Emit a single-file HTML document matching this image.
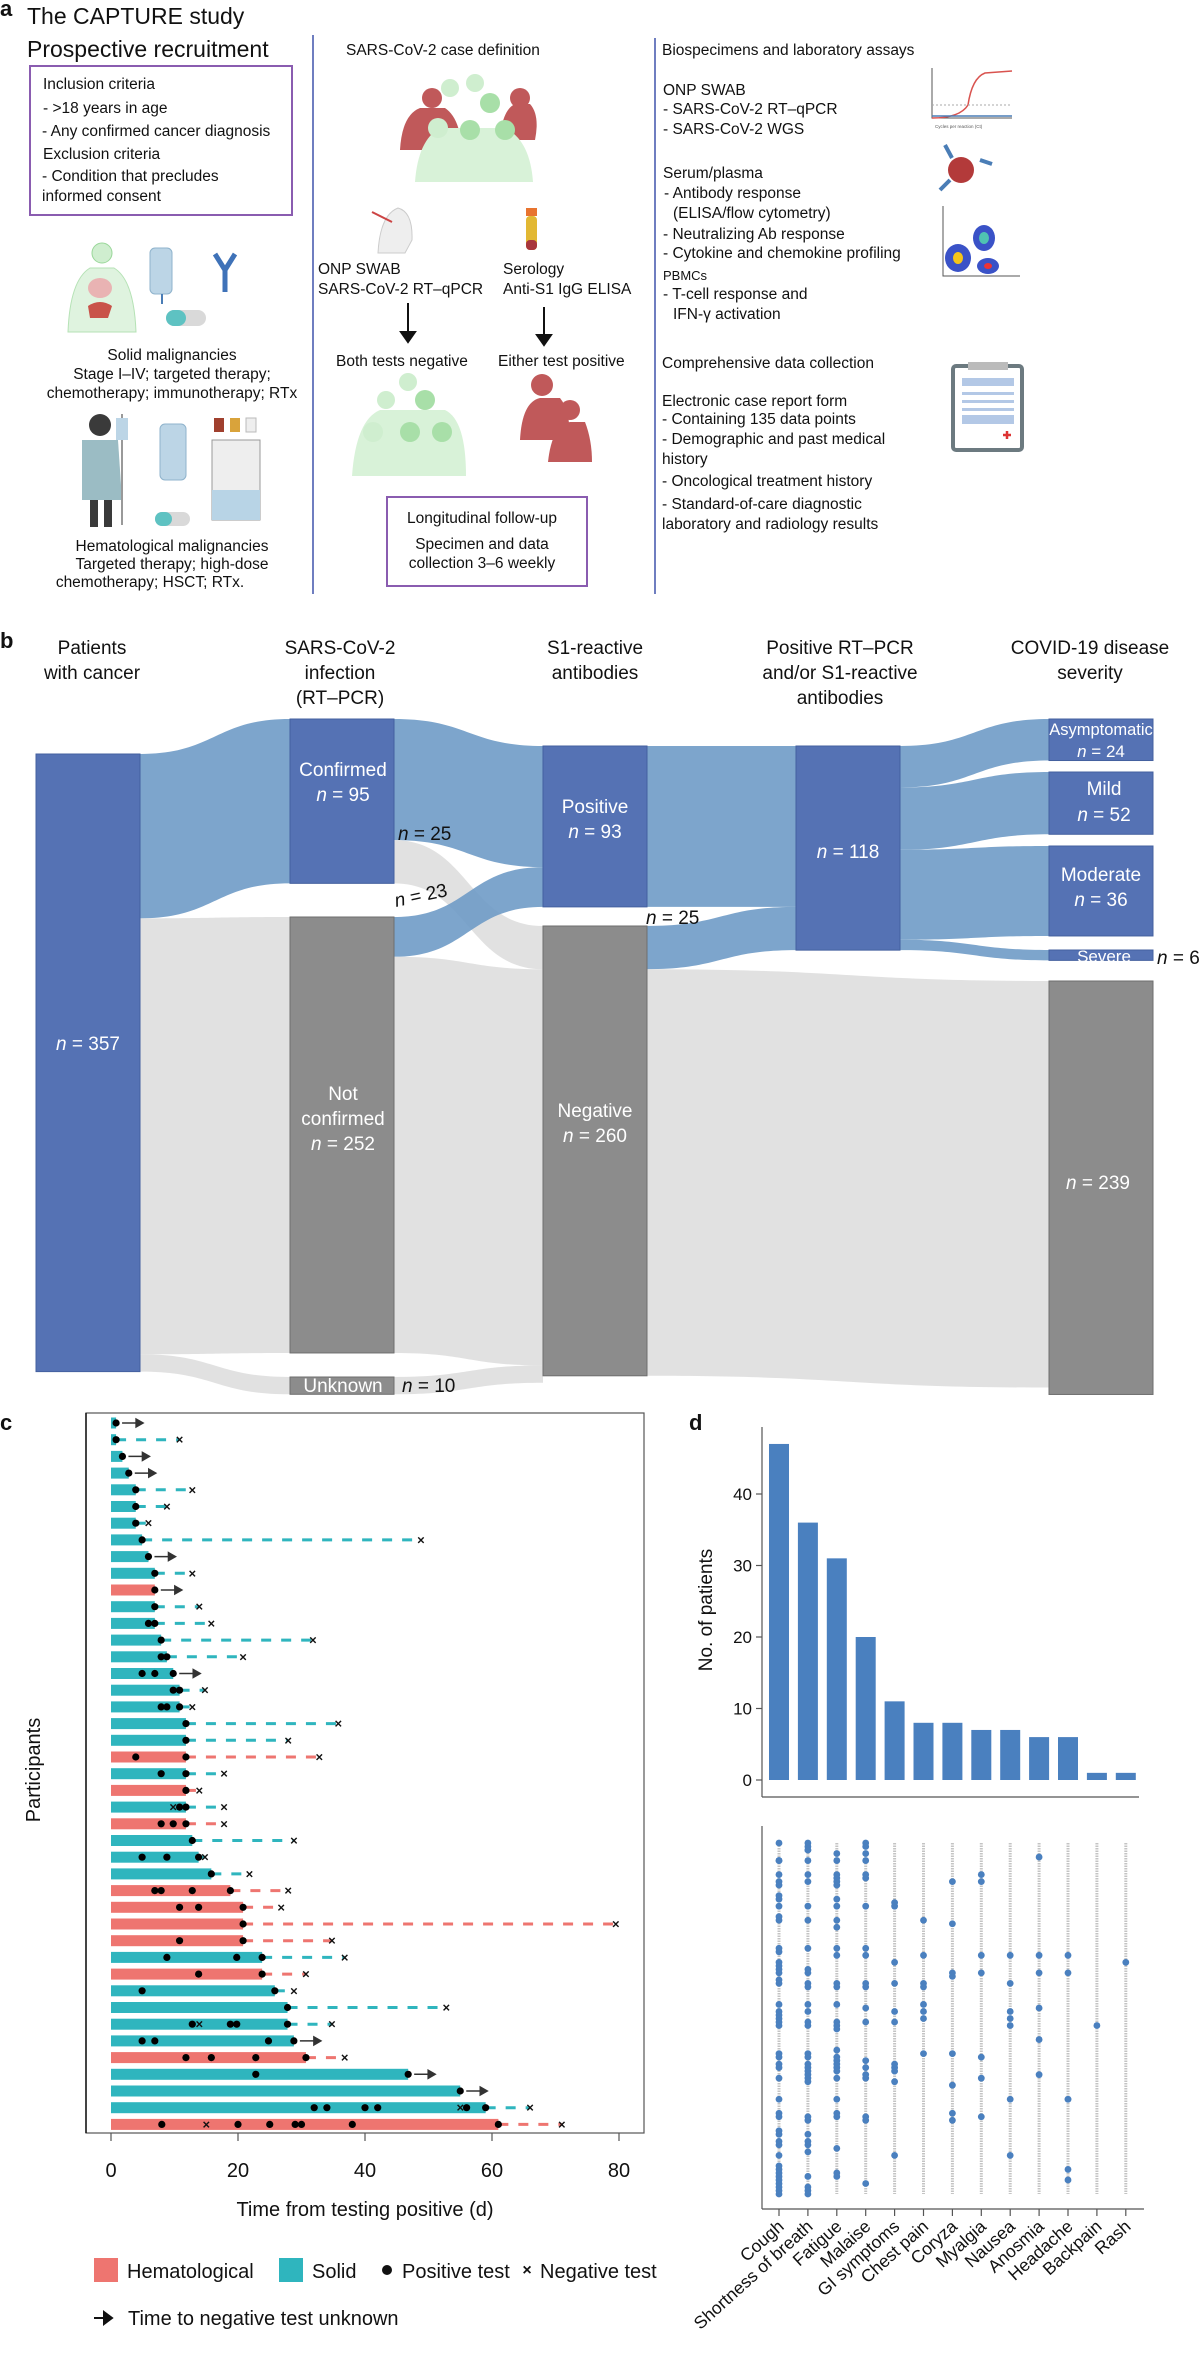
<!DOCTYPE html>
<html><head><meta charset="utf-8">
<style>
html,body{margin:0;padding:0;background:#fff;}
svg{display:block;font-family:"Liberation Sans",Arial,sans-serif;}
</style></head>
<body>
<svg id="fig" width="1200" height="2357" viewBox="0 0 1200 2357" xmlns="http://www.w3.org/2000/svg">
<!-- ===== Panel a ===== -->
<g fill="#111">
  <text x="0" y="16" font-size="22" font-weight="bold">a</text>
  <text x="27" y="24" font-size="23">The CAPTURE study</text>
  <text x="27" y="57" font-size="23">Prospective recruitment</text>
  <rect x="30" y="66" width="262" height="149" fill="none" stroke="#8a5cb0" stroke-width="2"/>
  <g font-size="15.5">
    <text x="43" y="89">Inclusion criteria</text>
    <text x="43" y="113">- &gt;18 years in age</text>
    <text x="42" y="136">- Any confirmed cancer diagnosis</text>
    <text x="43" y="159">Exclusion criteria</text>
    <text x="42" y="181">- Condition that precludes</text>
    <text x="42" y="201">informed consent</text>
  </g>
  <g>
    <circle cx="102" cy="253" r="10" fill="#cfeecf" stroke="#9ad79a"/>
    <path d="M68 332 Q70 280 90 268 L114 268 Q134 280 136 332 Z" fill="#dff3df" stroke="#b5e2b5"/>
    <ellipse cx="100" cy="288" rx="12" ry="10" fill="#e9b3b3"/>
    <path d="M88 306 Q100 298 112 306 L108 318 L90 318 Z" fill="#c9534a"/>
    <rect x="150" y="248" width="22" height="46" rx="5" fill="#bcd5e6" stroke="#8fb3cc"/>
    <line x1="162" y1="294" x2="162" y2="304" stroke="#4a7db6" stroke-width="2"/>
    <path d="M215 254 L225 270 L235 254 M225 270 L225 292" stroke="#3f72b8" stroke-width="5" fill="none"/>
    <rect x="166" y="310" width="40" height="16" rx="8" fill="#d9d9d9"/>
    <rect x="166" y="310" width="20" height="16" rx="8" fill="#5ec2c2"/>
  </g>
  <g font-size="15.5" text-anchor="middle">
    <text x="172" y="360">Solid malignancies</text>
    <text x="172" y="379">Stage I–IV; targeted therapy;</text>
    <text x="172" y="398">chemotherapy; immunotherapy; RTx</text>
  </g>
  <g>
    <circle cx="100" cy="425" r="11" fill="#3a3a3a"/>
    <path d="M82 440 L118 440 L122 500 L82 500 Z" fill="#9bbcc4"/>
    <rect x="90" y="500" width="8" height="27" fill="#3a3a3a"/><rect x="104" y="500" width="8" height="27" fill="#3a3a3a"/>
    <line x1="122" y1="414" x2="122" y2="525" stroke="#999" stroke-width="2"/>
    <rect x="116" y="418" width="12" height="22" fill="#bcd5e6"/>
    <rect x="160" y="424" width="26" height="56" rx="5" fill="#bcd5e6" stroke="#8fb3cc"/>
    <rect x="155" y="512" width="35" height="14" rx="7" fill="#d9d9d9"/><rect x="155" y="512" width="17" height="14" rx="7" fill="#5ec2c2"/>
    <rect x="212" y="440" width="48" height="80" fill="#eeeeee" stroke="#999"/>
    <rect x="212" y="490" width="48" height="30" fill="#b8d4e6"/>
    <rect x="214" y="418" width="10" height="14" fill="#a0402e"/><rect x="230" y="418" width="10" height="14" fill="#d9a33b"/><rect x="246" y="418" width="10" height="14" fill="#eee" stroke="#bbb"/>
  </g>
  <g font-size="15.5" text-anchor="middle">
    <text x="172" y="551">Hematological malignancies</text>
    <text x="172" y="569">Targeted therapy; high-dose</text>
    <text x="150" y="587">chemotherapy; HSCT; RTx.</text>
  </g>
  <line x1="313" y1="35" x2="313" y2="594" stroke="#6f7ec0" stroke-width="2"/>
  <line x1="655" y1="38" x2="655" y2="594" stroke="#6f7ec0" stroke-width="2"/>

  <text x="346" y="55" font-size="15.5">SARS-CoV-2 case definition</text>
  <g>
    <path d="M400 150 Q402 115 420 108 L445 108 Q460 118 462 150 Z" fill="#c0595a"/><circle cx="432" cy="98" r="10" fill="#c0595a"/>
    <path d="M500 140 Q502 110 515 104 L530 104 Q540 115 535 140 Z" fill="#c0595a"/><circle cx="520" cy="98" r="10" fill="#c0595a"/>
    <path d="M415 182 Q418 140 440 128 L505 128 Q530 140 533 182 Z" fill="#d8f2d8"/>
    <circle cx="450" cy="88" r="9" fill="#cfeecf"/><circle cx="475" cy="83" r="9" fill="#cfeecf"/><circle cx="490" cy="103" r="10" fill="#a8dfa8"/>
    <circle cx="438" cy="128" r="10" fill="#cfeecf"/><circle cx="470" cy="130" r="10" fill="#a8dfa8"/><circle cx="505" cy="130" r="10" fill="#a8dfa8"/>
  </g>
  <g>
    <path d="M378 253 Q380 215 398 208 Q413 212 412 240 L405 253 Z" fill="#eee" stroke="#ccc"/>
    <line x1="372" y1="212" x2="392" y2="222" stroke="#c44" stroke-width="2"/>
  </g>
  <g>
    <rect x="526" y="208" width="11" height="8" fill="#e8742f"/><rect x="526" y="216" width="11" height="34" rx="4" fill="#e2b833"/>
    <rect x="526" y="240" width="11" height="10" rx="4" fill="#a8363c"/>
  </g>
  <g font-size="15.5">
    <text x="318" y="274">ONP SWAB</text>
    <text x="318" y="294">SARS-CoV-2 RT–qPCR</text>
    <text x="503" y="274">Serology</text>
    <text x="503" y="294">Anti-S1 IgG ELISA</text>
    <text x="336" y="366">Both tests negative</text>
    <text x="498" y="366">Either test positive</text>
  </g>
  <g stroke="#111" stroke-width="2" fill="#111">
    <line x1="408" y1="303" x2="408" y2="334"/><path d="M401 332 L408 342 L415 332 Z"/>
    <line x1="544" y1="307" x2="544" y2="337"/><path d="M537 335 L544 345 L551 335 Z"/>
  </g>
  <g>
    <path d="M352 476 Q356 420 380 410 L445 410 Q466 420 466 476 Z" fill="#d8f2d8"/>
    <circle cx="408" cy="382" r="9" fill="#cfeecf"/><circle cx="386" cy="400" r="9" fill="#cfeecf"/><circle cx="425" cy="400" r="10" fill="#a8dfa8"/>
    <circle cx="373" cy="432" r="10" fill="#cfeecf"/><circle cx="410" cy="432" r="10" fill="#a8dfa8"/><circle cx="442" cy="432" r="10" fill="#a8dfa8"/>
  </g>
  <g>
    <circle cx="542" cy="385" r="11" fill="#c0595a"/><path d="M520 440 Q522 402 540 398 L560 398 Q570 410 570 440 Z" fill="#c0595a"/>
    <circle cx="570" cy="410" r="10" fill="#c0595a"/><path d="M548 462 Q552 425 570 422 L585 422 Q592 440 592 462 Z" fill="#c0595a"/>
  </g>
  <rect x="387" y="497" width="200" height="89" fill="none" stroke="#8a5cb0" stroke-width="2"/>
  <g font-size="15.5" text-anchor="middle">
    <text x="482" y="523">Longitudinal follow-up</text>
    <text x="482" y="549">Specimen and data</text>
    <text x="482" y="568">collection 3–6 weekly</text>
  </g>
  <g font-size="15.5">
    <text x="662" y="55">Biospecimens and laboratory assays</text>
    <text x="663" y="95">ONP SWAB</text>
    <text x="663" y="114">- SARS-CoV-2 RT–qPCR</text>
    <text x="663" y="134">- SARS-CoV-2 WGS</text>
    <text x="663" y="178">Serum/plasma</text>
    <text x="664" y="198">- Antibody response</text>
    <text x="673" y="218">(ELISA/flow cytometry)</text>
    <text x="663" y="239">- Neutralizing Ab response</text>
    <text x="663" y="258">- Cytokine and chemokine profiling</text>
    <text x="663" y="280" font-size="13">PBMCs</text>
    <text x="663" y="299">- T-cell response and</text>
    <text x="673" y="319">IFN-γ activation</text>
    <text x="662" y="368">Comprehensive data collection</text>
    <text x="662" y="406">Electronic case report form</text>
    <text x="662" y="424">- Containing 135 data points</text>
    <text x="662" y="444">- Demographic and past medical</text>
    <text x="662" y="464">history</text>
    <text x="662" y="486">- Oncological treatment history</text>
    <text x="662" y="509">- Standard-of-care diagnostic</text>
    <text x="662" y="529">laboratory and radiology results</text>
  </g>
  <g font-size="4.5" fill="#555">
    <path d="M932 68 L932 118 L1012 118" fill="none" stroke="#555"/>
    <path d="M932 118 Q960 118 968 105 Q972 78 985 73 L1012 71" fill="none" stroke="#d9534f" stroke-width="1.5"/>
    <line x1="932" y1="116" x2="1012" y2="116" stroke="#4a7db6" stroke-width="1.5"/>
    <line x1="932" y1="105" x2="1012" y2="105" stroke="#aaa" stroke-dasharray="2 2"/>
    <text x="935" y="128">Cycles per reaction (Ct)</text>
  </g>
  <g>
    <circle cx="961" cy="170" r="13" fill="#b33a3a"/>
    <path d="M945 145 L952 158 M980 160 L992 164 M940 190 L950 180" stroke="#4a7db6" stroke-width="4"/>
  </g>
  <g>
    <path d="M943 206 L943 276 L1020 276" fill="none" stroke="#555"/>
    <ellipse cx="958" cy="258" rx="13" ry="14" fill="#3a52c7"/><ellipse cx="958" cy="258" rx="5" ry="6" fill="#f5c518"/>
    <ellipse cx="984" cy="238" rx="11" ry="13" fill="#3a52c7"/><ellipse cx="984" cy="238" rx="5" ry="6" fill="#4fc3b2"/>
    <ellipse cx="988" cy="266" rx="11" ry="8" fill="#3a52c7"/><ellipse cx="988" cy="266" rx="4" ry="3" fill="#e33"/>
  </g>
  <g>
    <rect x="953" y="366" width="69" height="84" rx="3" fill="#fff" stroke="#6c7a80" stroke-width="4"/>
    <rect x="968" y="362" width="40" height="8" fill="#bbb"/>
    <rect x="962" y="378" width="52" height="8" fill="#b3c8e6"/><rect x="962" y="392" width="52" height="3" fill="#b3c8e6"/>
    <rect x="962" y="400" width="52" height="3" fill="#b3c8e6"/><rect x="962" y="408" width="52" height="3" fill="#b3c8e6"/>
    <rect x="962" y="415" width="52" height="9" fill="#b3c8e6"/>
    <path d="M1003 435 h8 M1007 431 v8" stroke="#d33" stroke-width="2.5"/>
  </g>
</g>

<!-- ===== Panel b ===== -->
<g id="panelB">
  <text x="0" y="648" font-size="22" font-weight="bold" fill="#111">b</text>
  <g font-size="19" text-anchor="middle" fill="#111">
    <text x="92" y="654">Patients</text><text x="92" y="679">with cancer</text>
    <text x="340" y="654">SARS-CoV-2</text><text x="340" y="679">infection</text><text x="340" y="704">(RT–PCR)</text>
    <text x="595" y="654">S1-reactive</text><text x="595" y="679">antibodies</text>
    <text x="840" y="654">Positive RT–PCR</text><text x="840" y="679">and/or S1-reactive</text><text x="840" y="704">antibodies</text>
    <text x="1090" y="654">COVID-19 disease</text><text x="1090" y="679">severity</text>
  </g>
  <g id="sankeyFlows"></g>
  <g id="sankeyNodes"></g>
  <g font-size="19" fill="#fff" text-anchor="middle">
    <text x="88" y="1050"><tspan font-style="italic">n</tspan> = 357</text>
    <text x="343" y="776">Confirmed</text><text x="343" y="801"><tspan font-style="italic">n</tspan> = 95</text>
    <text x="343" y="1100">Not</text><text x="343" y="1125">confirmed</text><text x="343" y="1150"><tspan font-style="italic">n</tspan> = 252</text>
    <text x="343" y="1392">Unknown</text>
    <text x="595" y="813">Positive</text><text x="595" y="838"><tspan font-style="italic">n</tspan> = 93</text>
    <text x="595" y="1117">Negative</text><text x="595" y="1142"><tspan font-style="italic">n</tspan> = 260</text>
    <text x="848" y="858"><tspan font-style="italic">n</tspan> = 118</text>
    <text x="1101" y="735" font-size="16.5">Asymptomatic</text><text x="1101" y="757" font-size="17"><tspan font-style="italic">n</tspan> = 24</text>
    <text x="1104" y="795">Mild</text><text x="1104" y="821"><tspan font-style="italic">n</tspan> = 52</text>
    <text x="1101" y="881">Moderate</text><text x="1101" y="906"><tspan font-style="italic">n</tspan> = 36</text>
    <text x="1104" y="962" font-size="17">Severe</text>
    <text x="1098" y="1189"><tspan font-style="italic">n</tspan> = 239</text>
  </g>
  <g font-size="19" fill="#111">
    <text x="398" y="840"><tspan font-style="italic">n</tspan> = 25</text>
    <text x="396" y="907" transform="rotate(-12 396 907)"><tspan font-style="italic">n</tspan> = 23</text>
    <text x="402" y="1392"><tspan font-style="italic">n</tspan> = 10</text>
    <text x="646" y="924"><tspan font-style="italic">n</tspan> = 25</text>
    <text x="1157" y="964"><tspan font-style="italic">n</tspan> = 6</text>
  </g>
</g>

<!-- ===== Panel c ===== -->
<g id="panelC">
  <text x="0" y="1430" font-size="22" font-weight="bold" fill="#111">c</text>
  <rect x="86" y="1413" width="558" height="720" fill="none" stroke="#555" stroke-width="1.2"/>
  <line x1="86" y1="1413" x2="86" y2="2133" stroke="#111" stroke-width="1.5"/>
  <text x="0" y="0" font-size="20" fill="#111" text-anchor="middle" transform="translate(40 1770) rotate(-90)">Participants</text>
  <g id="cMarks"></g>
  <g id="cAxis"></g>
  <text x="365" y="2216" font-size="20" fill="#111" text-anchor="middle">Time from testing positive (d)</text>
  <g font-size="20" fill="#111">
    <rect x="94" y="2258" width="24" height="24" fill="#ee7570"/>
    <text x="127" y="2278">Hematological</text>
    <rect x="279" y="2258" width="24" height="24" fill="#2fb5be"/>
    <text x="312" y="2278">Solid</text>
    <circle cx="387" cy="2270" r="5" fill="#111"/>
    <text x="402" y="2278">Positive test</text>
    <text x="527" y="2275" font-size="16" font-weight="bold" text-anchor="middle">×</text>
    <text x="540" y="2278">Negative test</text>
    <path d="M94 2318 L110 2318 M104 2312 L112 2318 L104 2324 Z" stroke="#111" stroke-width="2" fill="#111"/>
    <text x="128" y="2325">Time to negative test unknown</text>
  </g>
</g>

<!-- ===== Panel d ===== -->
<g id="panelD">
  <text x="689" y="1430" font-size="22" font-weight="bold" fill="#111">d</text>
  <line x1="762" y1="1427" x2="762" y2="1797" stroke="#555" stroke-width="1.2"/>
  <line x1="762" y1="1797" x2="1139" y2="1797" stroke="#555" stroke-width="1.2"/>
  <text x="0" y="0" font-size="19" fill="#111" text-anchor="middle" transform="translate(712 1610) rotate(-90)">No. of patients</text>
  <g id="dBars"></g>
  <line x1="762" y1="1826" x2="762" y2="2209" stroke="#555" stroke-width="1.2"/>
  <line x1="762" y1="2209" x2="1144" y2="2209" stroke="#555" stroke-width="1.2"/>
  <g id="dDots"></g>
</g>

<script>
const NS = "http://www.w3.org/2000/svg";
function mk(tag, attrs, parent) {
  const e = document.createElementNS(NS, tag);
  for (const k in attrs) e.setAttribute(k, attrs[k]);
  parent.appendChild(e);
  return e;
}

/* ---------- Panel b: Sankey data ---------- */
const sankeyNodeIds = ["all","conf","notconf","unk","pos","neg","tot","asym","mild","mod","sev","none"];
const sankeyNodeSizes = [357, 95, 252, 10, 93, 260, 118, 24, 36, 52, 6, 239];
const sankeyNodeCols = [0, 1, 1, 1, 2, 2, 3, 4, 4, 4, 4, 4];
const sankeyNodeTops = [754, 719, 917, 1377, 746, 926, 746, 719, 772, 846, 950, 981];
const sankeyNodeGrey = [0, 0, 1, 1, 0, 1, 0, 0, 0, 0, 0, 1];
const sankeyFlowSrc = ["all","all","all","conf","conf","notconf","notconf","unk","pos","neg","neg","tot","tot","tot","tot"];
const sankeyFlowDst = ["conf","notconf","unk","pos","neg","pos","neg","neg","tot","tot","none","asym","mild","mod","sev"];
const sankeyFlowVal = [95, 252, 10, 70, 25, 23, 229, 10, 93, 25, 235, 24, 36, 52, 6];
const sankeyFlowGrey = [0, 1, 1, 0, 1, 0, 1, 1, 0, 0, 1, 0, 0, 0, 0];

(function drawSankey(){
  const k = 1.73;
  const colX = [36, 290, 543, 796, 1049], nodeW = 104;
  const fg = document.getElementById("sankeyFlows");
  const ng = document.getElementById("sankeyNodes");
  const outOff = {}, inOff = {};
  const idx = id => sankeyNodeIds.indexOf(id);
  sankeyNodeIds.forEach(id => { outOff[id] = 0; inOff[id] = 0; });
  sankeyFlowVal.forEach((v, i) => {
    const s = idx(sankeyFlowSrc[i]), d = idx(sankeyFlowDst[i]);
    const h = v * k;
    const x0 = colX[sankeyNodeCols[s]] + nodeW, x1 = colX[sankeyNodeCols[d]];
    const y0 = sankeyNodeTops[s] + outOff[sankeyFlowSrc[i]];
    const y1 = sankeyNodeTops[d] + inOff[sankeyFlowDst[i]];
    outOff[sankeyFlowSrc[i]] += h; inOff[sankeyFlowDst[i]] += h;
    const xm = (x0 + x1) / 2;
    const p = mk("path", {
      d: `M${x0} ${y0} C${xm} ${y0} ${xm} ${y1} ${x1} ${y1} L${x1} ${y1+h} C${xm} ${y1+h} ${xm} ${y0+h} ${x0} ${y0+h} Z`,
      fill: sankeyFlowGrey[i] ? "#dcdcdc" : "#6b98c5", "fill-opacity": sankeyFlowGrey[i] ? 0.85 : 0.88
    }, fg);
    
    
  });
  sankeyNodeIds.forEach((id, i) => {
    const r = mk("rect", {
      x: colX[sankeyNodeCols[i]], y: sankeyNodeTops[i], width: nodeW, height: sankeyNodeSizes[i] * k,
      fill: sankeyNodeGrey[i] ? "#8c8c8c" : "#5572b4", stroke: sankeyNodeGrey[i] ? "#6e6e6e" : "#44609f", "stroke-width": 1
    }, ng);
    
    
  });
})();

/* ---------- Panel c data ---------- */
const rowType = ["s","s","s","s","s","s","s","s","s","s","h","s","s","s","s","s","s","s","s","s","h","s","h","s","h","s","s","s","h","h","h","h","s","h","s","s","s","s","h","s","s","s","h"];
const rowEnd = [0.8,0.8,1.8,2.8,3.9,3.9,3.9,4.9,5.9,6.9,6.9,6.9,6.9,7.9,8.8,9.8,10.8,10.8,11.8,11.8,11.8,11.8,11.8,11.8,11.8,12.8,13.8,15.8,18.8,20.8,20.8,20.8,23.8,23.8,25.8,27.8,27.8,28.8,30.7,46.8,55,59,61];
const rowPositives = [[0.8],[0.8],[1.8],[2.8],[3.9],[3.9],[3.9],[4.9],[5.9],[6.9],[6.9],[6.9],[5.9,6.9],[7.9],[7.9,8.8],[4.9,6.9,9.8],[9.8,10.8],[7.9,8.8,10.8],[11.8],[11.8],[3.9,11.8],[7.9,11.8],[11.8],[10.8,11.8],[7.9,9.8,11.8],[12.8],[4.9,8.8,13.8],[15.8],[6.9,7.9,12.8,18.8],[10.8,13.8,20.8],[20.8],[10.8,20.8],[8.8,19.8,23.8],[13.8,23.8],[4.9,25.8],[27.8],[12.8,18.8,19.8,27.8],[4.9,6.9,24.8,28.8],[11.8,15.8,22.8,30.7],[22.8,46.8],[55],[32,34,40,42,56,59],[8,20,25,29,30,38,61]];
const rowInnerNegatives = [[],[],[],[],[],[],[],[],[],[],[],[],[],[],[],[],[],[],[],[],[],[],[],[9.8],[],[],[],[],[],[],[],[],[],[],[],[],[13.9],[],[],[],[],[55],[15]];
const rowFinalNegative = [null,10.8,null,null,12.8,8.8,5.9,48.8,null,12.8,null,13.9,15.8,31.8,20.8,null,14.8,12.8,35.8,27.9,32.8,17.8,13.9,17.8,17.8,28.8,14.8,21.8,27.9,26.8,79.5,34.8,36.8,30.7,28.8,52.8,34.8,null,36.8,null,null,66,71];
const xTicks = [0, 20, 40, 60, 80];

(function drawC(){
  const g = document.getElementById("cMarks");
  const ax = document.getElementById("cAxis");
  const xS = d => 111 + d * 6.35;
  const yS = i => 1423 + i * 16.7;
  const col = t => t === "h" ? "#ee7570" : "#2fb5be";
  rowEnd.forEach((end, i) => {
    const y = yS(i);
    const c = col(rowType[i]);
    const bar = mk("rect", {x: xS(0), y: y - 5.5, width: xS(end) - xS(0), height: 11, fill: c}, g);
    
    
    const fn = rowFinalNegative[i];
    if (fn !== null) {
      const ln = mk("line", {x1: xS(end), y1: y, x2: xS(fn), y2: y, stroke: c, "stroke-width": 3, "stroke-dasharray": "10 10"}, g);
      
      
      const xm = mk("text", {x: xS(fn), y: y + 4.5, "font-size": 13, "font-weight": "bold", "text-anchor": "middle", fill: "#111"}, g);
      xm.textContent = "×";
      
      
    } else {
      const a = mk("path", {d: `M${xS(end)+6} ${y} L${xS(end)+24} ${y} M${xS(end)+20} ${y-4} L${xS(end)+27} ${y} L${xS(end)+20} ${y+4} Z`, stroke: "#333", "stroke-width": 1.5, fill: "#333"}, g);
      
      
    }
    rowInnerNegatives[i].forEach(d => {
      const xm = mk("text", {x: xS(d), y: y + 4.5, "font-size": 13, "font-weight": "bold", "text-anchor": "middle", fill: "#111"}, g);
      xm.textContent = "×";
      
      
    });
    rowPositives[i].forEach(d => {
      const p = mk("circle", {cx: xS(d), cy: y, r: 3.6, fill: "#000"}, g);
      
      
    });
  });
  xTicks.forEach(t => {
    const tk = mk("line", {x1: xS(t), y1: 2133, x2: xS(t), y2: 2141, stroke: "#555", "stroke-width": 1.2}, ax);
    
    
    const lb = mk("text", {x: xS(t), y: 2177, "font-size": 20, "text-anchor": "middle", fill: "#111"}, ax);
    lb.textContent = t;
    
    
  });
})();

/* ---------- Panel d data ---------- */
const symptoms = ["Cough","Shortness of breath","Fatigue","Malaise","GI symptoms","Chest pain","Coryza","Myalgia","Nausea","Anosmia","Headache","Backpain","Rash"];
const symptomCounts = [47, 36, 31, 20, 11, 8, 8, 7, 7, 6, 6, 1, 1];
const countTicks = [0, 10, 20, 30, 40];
const dotsCough = [0,5,5,9,11,12,15,16,18,21,22,30,31,34,35,36,37,39,40,46,48,49,50,51,52,60,61,63,64,67,73,77,78,82,83,85,86,89,92,93,94,95,96,97,98,99,100];
const dotsShortness = [0,1,2,2,5,9,11,18,22,30,36,37,40,41,46,48,51,52,60,61,63,64,65,66,67,68,78,79,83,85,86,88,95,98,99,100];
const dotsFatigue = [3,5,9,10,11,12,16,18,22,24,30,32,40,41,46,51,52,53,59,61,62,63,64,65,67,73,77,78,87,94,95];
const dotsMalaise = [0,1,3,5,9,10,18,30,32,40,41,47,51,62,64,66,67,78,79,97];
const dotsGI = [17,18,34,40,48,51,63,64,65,68,89];
const dotsChest = [22,32,40,41,46,48,50,60];
const dotsCoryza = [11,23,37,38,60,69,77,79];
const dotsMyalgia = [9,11,32,37,61,67,78];
const dotsNausea = [32,40,48,50,52,73,89];
const dotsAnosmia = [4,32,37,47,56,66];
const dotsHeadache = [32,37,73,73,93,96];
const dotsBackpain = [52];
const dotsRash = [34];
const symptomDots = [dotsCough,dotsShortness,dotsFatigue,dotsMalaise,dotsGI,dotsChest,dotsCoryza,dotsMyalgia,dotsNausea,dotsAnosmia,dotsHeadache,dotsBackpain,dotsRash];

(function drawD(){
  const bg = document.getElementById("dBars");
  const dg = document.getElementById("dDots");
  const xC = i => 779 + i * 28.9;
  const yV = v => 1780 - v * 7.15;
  const yP = p => 1843 + p * 3.51;
  countTicks.forEach(t => {
    const tk = mk("line", {x1: 756, y1: yV(t), x2: 762, y2: yV(t), stroke: "#555", "stroke-width": 1.2}, bg);
    
    
    const lb = mk("text", {x: 752, y: yV(t) + 6, "font-size": 17, "text-anchor": "end", fill: "#111"}, bg);
    lb.textContent = t;
    
    
  });
  symptomCounts.forEach((v, i) => {
    const r = mk("rect", {x: xC(i) - 10, y: yV(v), width: 20, height: yV(0) - yV(v), fill: "#4a80bf"}, bg);
    
    
  });
  symptoms.forEach((s, i) => {
    const x = xC(i);
    const gl = mk("line", {x1: x, y1: 1843, x2: x, y2: 2194, stroke: "#c4c4c4", "stroke-width": 3, "stroke-dasharray": "1.5 1"}, dg);
    
    
    symptomDots[i].forEach(p => {
      const c = mk("circle", {cx: x, cy: yP(p), r: 3.4, fill: "#4a80bf"}, dg);
      
      
    });
    const tk = mk("line", {x1: x, y1: 2209, x2: x, y2: 2216, stroke: "#555", "stroke-width": 1.2}, dg);
    
    
    const lb = mk("text", {x: 0, y: 0, "font-size": 17.5, "text-anchor": "end", fill: "#111", transform: `translate(${x + 6} ${2228}) rotate(-42)`}, dg);
    lb.textContent = s;
    
    
  });
})();
</script>
</svg>
</body></html>
